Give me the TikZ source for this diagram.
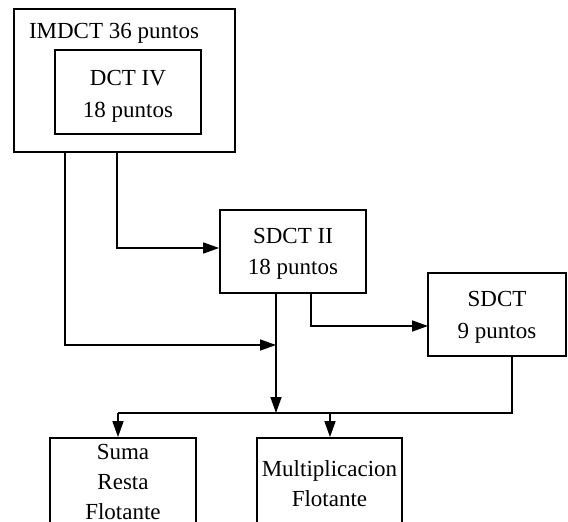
\documentclass[tikz,border=0pt]{standalone}
\usepackage{fontspec}
\setmainfont{Liberation Serif}
\usetikzlibrary{arrows.meta,calc}
\begin{document}
\begin{tikzpicture}[x=1pt,y=-1pt,
  box/.style={draw,line width=1.8pt,inner sep=0pt},
  txt/.style={inner sep=0pt,align=center,font=\fontsize{23}{31.5}\selectfont},
  txtb/.style={txt,font=\fontsize{23}{30}\selectfont},
  conn/.style={line width=1.6pt},
  arr/.style={conn,-{Triangle[length=16pt,width=11pt]}}]
\useasboundingbox (0,0) rectangle (568,522);
\clip (0,0) rectangle (568,522);
% boxes
\node[box,minimum width=221pt,minimum height=143pt] (imdct) at (124.5,80.5) {};
\node[txt,anchor=base] (imdctlabel) at (114,38) {IMDCT 36 puntos};
\node[box,minimum width=146pt,minimum height=84pt] (dct4) at (128,92) {};
\node[txt] (dct4t) at (128,96.5) {DCT IV\\18 puntos};
\node[box,minimum width=146pt,minimum height=83pt] (sdct2) at (293,251.5) {};
\node[txt] (sdct2t) at (293,254) {SDCT II\\18 puntos};
\node[box,minimum width=138pt,minimum height=83pt] (sdct9) at (497,314.5) {};
\node[txt] (sdct9t) at (497,317.5) {SDCT\\9 puntos};
\node[box,minimum width=146pt,minimum height=92pt] (suma) at (123,484) {};
\node[txtb] (sumat) at (123,482) {Suma\\Resta\\Flotante};
\node[box,minimum width=145pt,minimum height=92pt] (mult) at (329.5,484) {};
\node[txtb] (multt) at (329.5,484) {Multiplicacion\\Flotante};
% coordinates
\coordinate (p1) at (65,345);
\coordinate (p2) at (276,345);
\coordinate (p3) at (117,248);
\coordinate (p4) at (311,326);
\coordinate (p5) at (428,326);
\coordinate (j) at (276,413);
\coordinate (jl) at (118,413);
\coordinate (jm) at (330,413);
\coordinate (q) at (512,413);
% connectors
\draw[arr] (imdct.south -| p1) |- (p2);
\draw[arr] (imdct.south -| p3) |- (sdct2.west |- p3);
\draw[arr] (sdct2.south -| p2) -- (j);
\draw[arr] (sdct2.south -| p4) |- (p5);
\draw[conn] (sdct9.south -| q) -- (q) -- (jl);
\draw[arr] (jl) -- (suma.north -| jl);
\draw[arr] (jm) -- (mult.north -| jm);
\end{tikzpicture}
\end{document}
